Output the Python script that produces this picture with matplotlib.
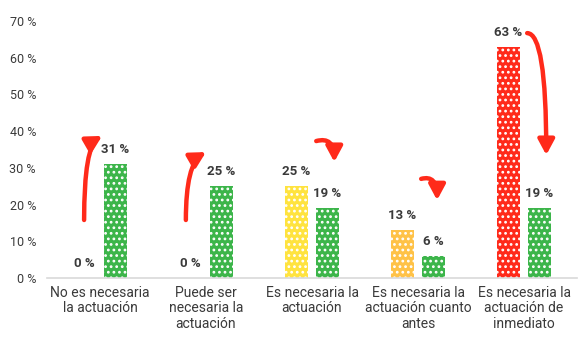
import matplotlib.pyplot as plt
import numpy as np
from matplotlib.patches import FancyArrowPatch

plt.rcParams['font.family'] = ['Roboto', 'DejaVu Sans']
plt.rcParams['hatch.linewidth'] = 1.2

categories = ['No es necesaria\nla actuación', 'Puede ser\nnecesaria la\nactuación',
              'Es necesaria la\nactuación', 'Es necesaria la\nactuación cuanto\nantes',
              'Es necesaria la\nactuación de\ninmediato']
before = [0, 0, 25, 13, 63]
after = [31, 25, 19, 6, 19]
before_colors = ['#ffffff', '#ffffff', '#ffe33f', '#ffc247', '#ff2a1a']
after_color = '#3cb54a'
yticks = [0, 10, 20, 30, 40, 50, 60, 70]

txt = '#3a3a3a'
red = '#ff2a1a'

fig = plt.figure(figsize=(5.8, 3.4), dpi=100)
ax = fig.add_axes([47/580, 62/340, 530/580, 257/340])

x = np.arange(len(categories))
w = 0.225
off = 0.146

ax.bar(x - off, before, w, color=before_colors, edgecolor='white', linewidth=0, hatch='...')
ax.bar(x + off, after, w, color=after_color, edgecolor='white', linewidth=0, hatch='...')

for xi, v in zip(x, before):
    ax.annotate(f'{v} %', (xi - off, v), xytext=(0, 10.5), textcoords='offset points',
                ha='center', va='center', fontsize=9.5, fontweight='bold', color=txt)
for xi, v in zip(x, after):
    ax.annotate(f'{v} %', (xi + off, v), xytext=(0, 10.5), textcoords='offset points',
                ha='center', va='center', fontsize=9.5, fontweight='bold', color=txt)

# curved red arrows: tail, head, connection style
arrows = [((-0.15, 15.8), (0.02, 38.7), 'angle3,angleA=90,angleB=30'),
          ((0.81, 15.8), (1.0, 34.3), 'angle3,angleA=90,angleB=30'),
          ((2.04, 37.3), (2.21, 31.6), 'angle3,angleA=15,angleB=90'),
          ((3.03, 27.0), (3.18, 21.2), 'angle3,angleA=15,angleB=90'),
          ((4.03, 66.7), (4.21, 33.5), 'angle3,angleA=0,angleB=90')]
for (t, h, cs) in arrows:
    a = FancyArrowPatch(t, h, connectionstyle=cs,
                        arrowstyle='-|>,head_width=0.35,head_length=0.65',
                        mutation_scale=14, color=red, linewidth=3.2,
                        shrinkA=0, shrinkB=0)
    ax.add_patch(a)

ax.set_xlim(-0.5, 4.5)
ax.set_ylim(0, 70)
ax.set_yticks(yticks)
ax.set_yticklabels([f'{t} %' for t in yticks], fontsize=9, color=txt)
ax.set_xticks(x)
ax.set_xticklabels(categories, fontsize=10, color=txt, linespacing=1.1)
ax.tick_params(length=0, pad=6)
ax.tick_params(axis='y', pad=8)
for s in ['top', 'right', 'left']:
    ax.spines[s].set_visible(False)
ax.spines['bottom'].set_color('#d9d9d9')
ax.spines['bottom'].set_linewidth(1.2)

fig.savefig('out.png', dpi=100)
